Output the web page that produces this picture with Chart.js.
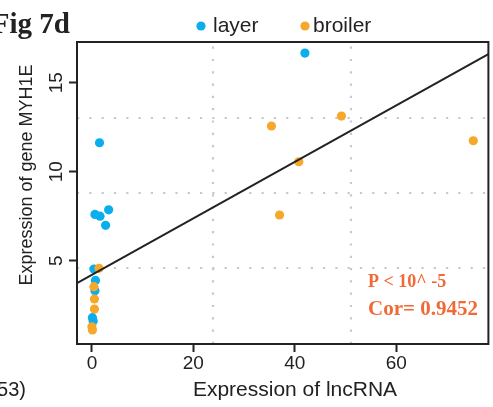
<!DOCTYPE html>
<html><head><meta charset="utf-8">
<script src="https://cdn.jsdelivr.net/npm/chart.js@4/dist/chart.umd.min.js"></script>
<style>html,body{margin:0;padding:0;background:#fff}</style>
</head><body>
<canvas id="c" width="493" height="407"></canvas>
<script>
// ---- data ----
const layerX = [42.0, 1.5, 0.6, 1.6, 3.3, 2.7, 0.4, 0.7, 0.6, 0.1, 0.25];
const layerY = [16.67, 11.63, 7.60, 7.50, 7.86, 6.99, 4.53, 3.89, 3.31, 1.80, 1.61];
const broilerX = [35.4, 49.2, 40.8, 37.0, 75.2, 1.4, 0.4, 0.5, 0.5, 0.0, 0.1];
const broilerY = [12.57, 13.13, 10.56, 7.57, 11.74, 4.57, 3.54, 2.85, 2.28, 1.29, 1.11];
const fitIntercept = 4.21;
const fitSlope = 0.1586;
const xTicks = [0, 20, 40, 60];
const yTicks = [5, 10, 15];
const xGrid = [23.9, 51.0];
const yGrid = [4.57, 8.79, 13.0];
const xRange = [-2.94, 78.18];
const yRange = [0.32, 17.29];
const seriesNames = ['layer', 'broiler'];
const statLines = ['P < 10^ -5', 'Cor= 0.9452'];

const BLUE = '#0AAEEC';
const ORANGE = '#F6A82A';
const INK = '#222222';

const toPts = (xs, ys) => xs.map((x, i) => ({x, y: ys[i]}));
const fitPts = xRange.map(x => ({x, y: fitIntercept + fitSlope * x}));

const decor = {
  id: 'decor',
  beforeDatasetsDraw(chart) {
    const {ctx, chartArea: a, scales: {x, y}} = chart;
    ctx.save();
    ctx.strokeStyle = '#C6C6D4';
    ctx.lineWidth = 2.2;
    ctx.setLineDash([2.2, 10.1]);
    xGrid.forEach(v => {
      const px = Math.round(x.getPixelForValue(v));
      ctx.beginPath(); ctx.moveTo(px, a.bottom); ctx.lineTo(px, a.top); ctx.stroke();
    });
    yGrid.forEach(v => {
      const py = Math.round(y.getPixelForValue(v));
      ctx.beginPath(); ctx.moveTo(a.left, py); ctx.lineTo(a.right, py); ctx.stroke();
    });
    ctx.restore();
  },
  afterDraw(chart) {
    const {ctx, chartArea: a} = chart;
    ctx.save();
    // plot box
    ctx.strokeStyle = INK;
    ctx.lineWidth = 2;
    ctx.strokeRect(a.left, a.top, a.right - a.left, a.bottom - a.top);
    // panel label
    ctx.fillStyle = INK;
    ctx.font = 'bold 29px "Liberation Serif"';
    ctx.textAlign = 'right';
    ctx.textBaseline = 'alphabetic';
    ctx.fillText('Fig 7d', 70, 33);
    // cut-off caption text at bottom-left
    ctx.font = '20px "Liberation Sans"';
    ctx.textBaseline = 'middle';
    ctx.fillText('53)', 26, 390);
    // axis titles
    ctx.textAlign = 'center';
    ctx.font = '21px "Liberation Sans"';
    ctx.fillText('Expression of lncRNA', 295, 390);
    ctx.save();
    ctx.translate(27, 175);
    ctx.rotate(-Math.PI / 2);
    ctx.font = '18px "Liberation Sans"';
    ctx.fillText('Expression of gene MYH1E', 0, 0);
    ctx.restore();
    // legend
    const ds = chart.data.datasets;
    const legendPos = [[201, 213], [305, 313]];
    seriesNames.forEach((name, i) => {
      const d = ds.find(s => s.label === name);
      ctx.fillStyle = d.backgroundColor;
      ctx.beginPath(); ctx.arc(legendPos[i][0], 26, 4.6, 0, Math.PI * 2); ctx.fill();
      ctx.fillStyle = INK;
      ctx.textAlign = 'left';
      ctx.font = '21px "Liberation Sans"';
      ctx.fillText(name, legendPos[i][1], 26);
    });
    // statistics
    ctx.fillStyle = '#EF6A35';
    ctx.textAlign = 'left';
    ctx.textBaseline = 'alphabetic';
    ctx.font = 'bold 18px "Liberation Serif"';
    ctx.fillText(statLines[0], 368, 287);
    ctx.font = 'bold 21px "Liberation Serif"';
    ctx.fillText(statLines[1], 368, 315);
    ctx.restore();
  }
};

new Chart(document.getElementById('c'), {
  type: 'scatter',
  data: {
    datasets: [
      {label: 'fit', data: fitPts, showLine: true, borderColor: INK, borderWidth: 2,
       pointRadius: 0, order: 0},
      {label: seriesNames[0], data: toPts(layerX, layerY), backgroundColor: BLUE,
       borderWidth: 0, pointRadius: 4.6, order: 2},
      {label: seriesNames[1], data: toPts(broilerX, broilerY), backgroundColor: ORANGE,
       borderWidth: 0, pointRadius: 4.6, order: 1}
    ]
  },
  options: {
    responsive: false,
    animation: false,
    events: [],
    layout: {padding: {top: 42, right: 2, bottom: 0, left: 0}},
    plugins: {legend: {display: false}, tooltip: {enabled: false}},
    scales: {
      x: {
        type: 'linear', min: xRange[0], max: xRange[1],
        afterBuildTicks: s => { s.ticks = xTicks.map(v => ({value: v})); },
        afterFit: s => { s.height = 63; s.paddingLeft = 0; s.paddingRight = 0; },
        grid: {drawOnChartArea: false, drawTicks: true, tickLength: 8, tickWidth: 2, tickColor: INK},
        border: {display: false},
        ticks: {font: {family: 'Liberation Sans', size: 19}, color: INK, padding: 0, maxRotation: 0}
      },
      y: {
        type: 'linear', min: yRange[0], max: yRange[1],
        afterBuildTicks: s => { s.ticks = yTicks.map(v => ({value: v})); },
        afterFit: s => { s.width = 77; s.paddingTop = 0; s.paddingBottom = 0; },
        grid: {drawOnChartArea: false, drawTicks: true, tickLength: 8, tickWidth: 2, tickColor: INK},
        border: {display: false},
        ticks: {font: {family: 'Liberation Sans', size: 19}, color: INK, padding: 1.5,
                minRotation: 90, maxRotation: 90, crossAlign: 'center'}
      }
    }
  },
  plugins: [decor]
});
</script>
</body></html>
